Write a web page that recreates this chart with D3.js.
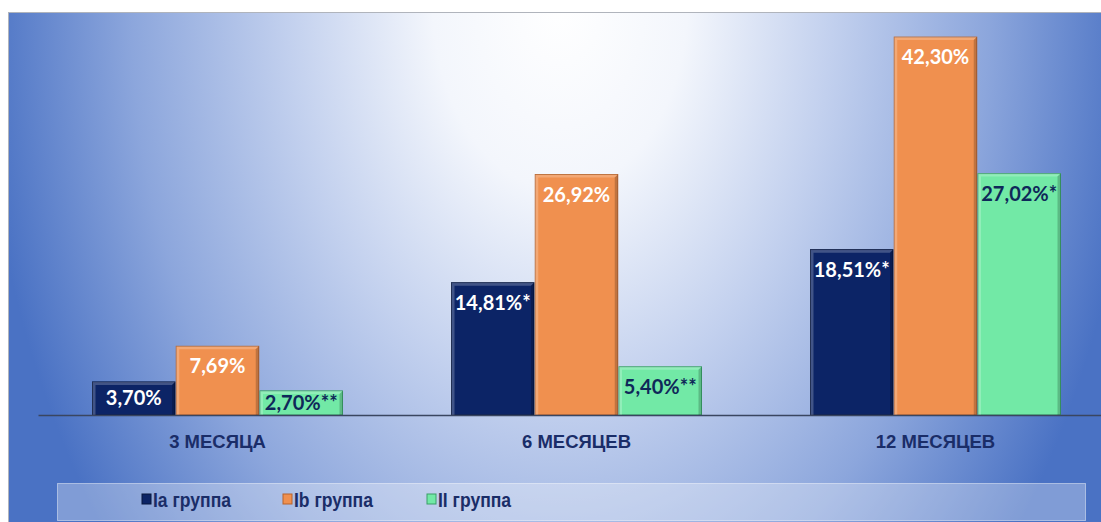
<!DOCTYPE html>
<html>
<head>
<meta charset="utf-8">
<script src="https://cdn.jsdelivr.net/npm/d3@7"></script>
<style>
  body { margin: 0; background: #fff; }
  svg { display: block; }
</style>
</head>
<body>
<div id="chart"></div>
<script>
var categories = ["3 МЕСЯЦА", "6 МЕСЯЦЕВ", "12 МЕСЯЦЕВ"];
var seriesNames = ["Ia группа", "Ib группа", "II группа"];
var seriesIa = [3.70, 14.81, 18.51];
var seriesIb = [7.69, 26.92, 42.30];
var seriesII = [2.70, 5.40, 27.02];
var labelsIa = ["3,70%", "14,81%*", "18,51%*"];
var labelsIb = ["7,69%", "26,92%", "42,30%"];
var labelsII = ["2,70%**", "5,40%**", "27,02%*"];

var colors = ["#0c2466", "#f0904f", "#72e9a6"];
var edge = ["#07173f", "#b8632c", "#3a9e68"];
var labelColors = ["#ffffff", "#ffffff", "#0f2859"];

var W = 1101, H = 522;
var svg = d3.select("#chart").append("svg").attr("width", W).attr("height", H);
var defs = svg.append("defs");

// background: wide radial glow from top centre
var rg = defs.append("radialGradient")
    .attr("id", "bg")
    .attr("gradientUnits", "userSpaceOnUse")
    .attr("cx", 0).attr("cy", 0).attr("r", 1)
    .attr("gradientTransform", "translate(560,0) scale(580,860)");
rg.append("stop").attr("offset", 0).attr("stop-color", "#ffffff");
rg.append("stop").attr("offset", 0.22).attr("stop-color", "#f3f6fc");
rg.append("stop").attr("offset", 0.47).attr("stop-color", "#c2d0ee");
rg.append("stop").attr("offset", 0.74).attr("stop-color", "#8ca6dc");
rg.append("stop").attr("offset", 1).attr("stop-color", "#4a72c4");

svg.append("rect")
    .attr("x", 8.5).attr("y", 12.5).attr("width", W).attr("height", H)
    .attr("fill", "url(#bg)")
    .attr("stroke", "#b0b4bc");

var x0 = d3.scaleBand().domain(categories).range([38, 1115]);
var groupW = 250;
var x1 = d3.scaleBand().domain(seriesNames).range([0, groupW]).paddingInner(0.015);
var y = d3.scaleLinear().domain([0, 45]).range([415, 13]);

var data = [seriesIa, seriesIb, seriesII];
var labels = [labelsIa, labelsIb, labelsII];

var rows = [];
data.forEach(function(vals, s) {
    vals.forEach(function(v, c) {
        rows.push({s: s, c: c, v: v, label: labels[s][c]});
    });
});

var bars = svg.append("g");
rows.forEach(function(d) {
    var bx = x0(categories[d.c]) + (x0.bandwidth() - groupW) / 2 + x1(seriesNames[d.s]);
    var bw = x1.bandwidth();
    var by = y(d.v), bh = y(0) - y(d.v);
    var g = bars.append("g");
    g.append("rect")
        .attr("x", bx).attr("y", by).attr("width", bw).attr("height", bh)
        .attr("fill", colors[d.s])
        .attr("stroke", edge[d.s]).attr("stroke-width", 1);
    // bevel: light top/left, dark right
    var b = 3;
    g.append("path")
        .attr("d", "M" + bx + "," + by + "h" + bw + "l-" + b + "," + b + "h-" + (bw - 2 * b) + "v" + (bh - b) + "l-" + b + ",0z")
        .attr("fill", "#ffffff").attr("opacity", 0.22);
    g.append("path")
        .attr("d", "M" + (bx + bw) + "," + by + "v" + bh + "h-" + b + "v" + (bh - b) * -1 + "z")
        .attr("fill", "#000000").attr("opacity", 0.2);
    var ty = Math.min(by + 27, by + bh / 2 + 7);
    g.append("text")
        .attr("x", bx + bw / 2).attr("y", ty)
        .attr("text-anchor", "middle")
        .attr("font-family", "Lato, 'Open Sans', sans-serif")
        .attr("font-weight", "bold")
        .attr("font-size", 20)
        .attr("fill", labelColors[d.s])
        .text(d.label);
});

// baseline axis
var xAxis = d3.axisBottom(x0).tickSize(0).tickPadding(20);
var gx = svg.append("g").attr("transform", "translate(0," + y(0) + ")").call(xAxis);
gx.select(".domain").attr("stroke", "#3a4660").attr("stroke-width", 1.3);
gx.selectAll("text")
    .attr("font-family", "'Liberation Sans', Arial, sans-serif")
    .attr("font-weight", "bold")
    .attr("font-size", 18.5)
    .attr("fill", "#1a2d68");

// legend
var lg = svg.append("g");
lg.append("rect")
    .attr("x", 57.5).attr("y", 483.5).attr("width", 1028).attr("height", 37)
    .attr("fill", "#ffffff").attr("fill-opacity", 0.3)
    .attr("stroke", "#ffffff").attr("stroke-opacity", 0.45);
var legendX = [142, 283, 427];
seriesNames.forEach(function(n, i) {
    lg.append("rect")
        .attr("x", legendX[i]).attr("y", 494).attr("width", 9).attr("height", 10)
        .attr("fill", colors[i]).attr("stroke", edge[i]);
    lg.append("text")
        .attr("transform", "translate(" + (legendX[i] + 11) + ",507) scale(0.9,1)")
        .attr("font-family", "'Liberation Sans', Arial, sans-serif")
        .attr("font-weight", "bold")
        .attr("font-size", 19.5)
        .attr("fill", "#1a2d68")
        .text(n);
});
</script>
</body>
</html>
